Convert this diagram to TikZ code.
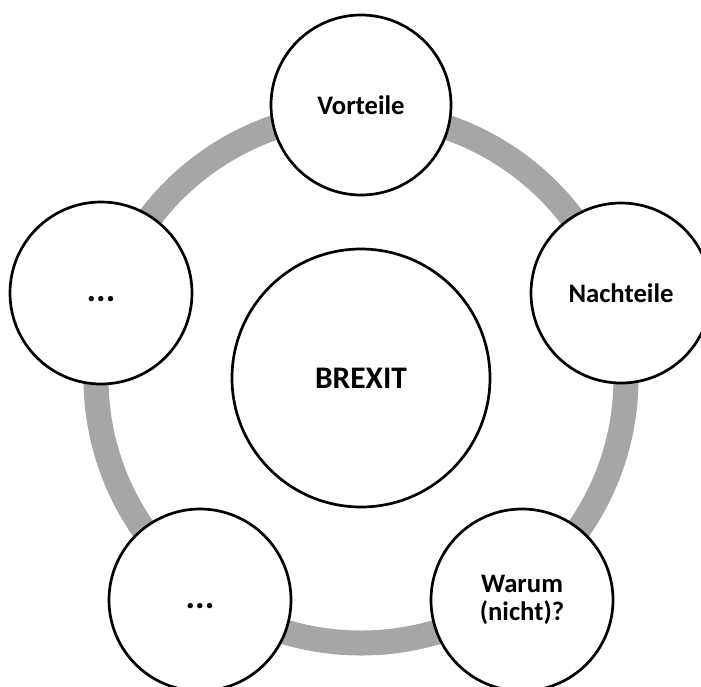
\documentclass[tikz,border=0pt]{standalone}
\usepackage{fontspec}
\setmainfont{Carlito}
\definecolor{ringgray}{RGB}{166,166,166}
\begin{document}
\begin{tikzpicture}[x=1pt,y=-1pt,
  ring/.style={draw=ringgray,line width=25pt},
  bubble/.style={circle,draw=black,fill=white,line width=2.7pt,inner sep=0pt,
    align=center,font=\fontsize{26.7}{28}\selectfont\bfseries},
  hub/.style={bubble,font=\fontsize{31.4}{36}\selectfont\bfseries},
  dotsty/.style={bubble,font=\fontsize{36}{40}\selectfont\bfseries}]
\path[use as bounding box] (0,0) rectangle (701,686);
\clip (0,0) rectangle (701,686);
\coordinate (c) at (361,378);
\draw[ring] (c) circle (265);
\node[hub,minimum size=258pt] (brexit) at (c) {BREXIT};
\node[bubble,minimum size=180pt] (vort) at (361,105) {Vorteile};
\node[bubble,minimum size=180pt] (nach) at (621,293) {Nachteile};
\node[bubble,minimum size=182pt] (warum) at (522,600) {Warum\\(nicht)?};
\node[dotsty,minimum size=182pt] (dotsb) at (200,600) {\vphantom{Ag}...};
\node[dotsty,minimum size=182pt] (dotsl) at (101,293) {\vphantom{Ag}...};
\end{tikzpicture}
\end{document}
